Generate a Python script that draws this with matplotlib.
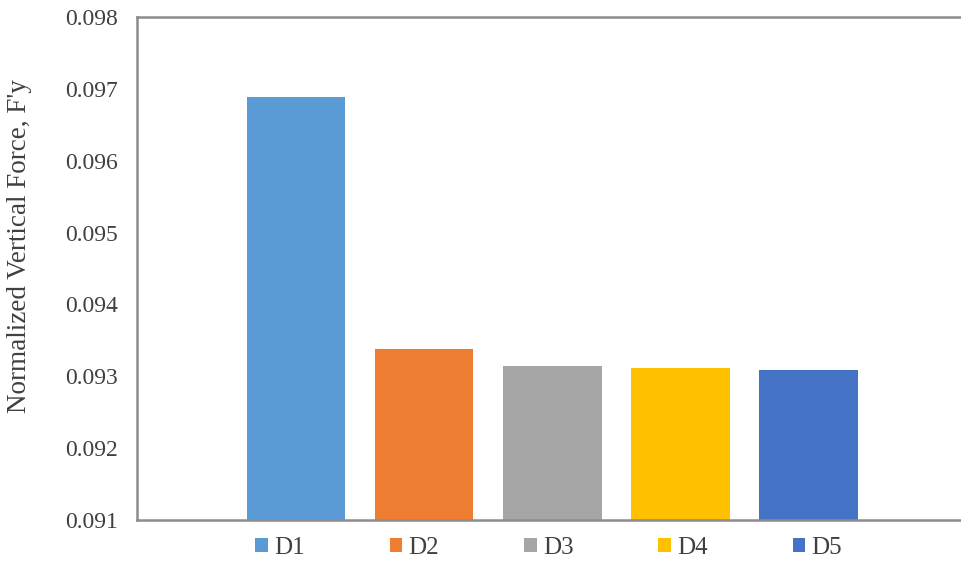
import matplotlib
matplotlib.use("Agg")
import matplotlib.pyplot as plt
from matplotlib.patches import Patch

plt.rcParams['font.family'] = ['Liberation Serif', 'DejaVu Serif']

series = ['D1', 'D2', 'D3', 'D4', 'D5']
force = [0.09689, 0.09338, 0.09314, 0.09312, 0.09309]
colors = ['#5B9BD5', '#ED7D31', '#A5A5A5', '#FFC000', '#4472C4']
yticks = [0.091, 0.092, 0.093, 0.094, 0.095, 0.096, 0.097, 0.098]

fig = plt.figure(figsize=(9.61, 5.86), dpi=100)
ax = fig.add_axes([0.1426, 0.1126, 0.8574, 0.8584])

x = range(len(series))
ax.bar(x, force, width=0.77, color=colors, zorder=2)

ax.set_xlim(-1.24, 5.19)
ax.set_ylim(0.091, 0.098)
ax.set_yticks(yticks)
ax.set_yticklabels(['%.3f' % v for v in yticks])
ax.set_xticks([])
ax.tick_params(axis='y', length=0, pad=14, labelsize=17, labelcolor='#404040')
ax.set_ylabel("Normalized Vertical Force, F'y", fontsize=19.5, color='#404040')
ax.yaxis.set_label_coords(-0.128, 0.545)

for side in ['left', 'top', 'bottom']:
    ax.spines[side].set_color('#8c8c8c')
    ax.spines[side].set_linewidth(1.8)
ax.spines['right'].set_visible(False)

handles = [Patch(facecolor=c, edgecolor='none') for c in colors]
fig.legend(handles, series, loc='center', bbox_to_anchor=(0.571, 0.065), ncol=5,
           frameon=False, fontsize=18, handlelength=0.5, handleheight=0.5,
           handletextpad=0.25, columnspacing=3.4, labelcolor='#404040')

fig.savefig('out.png', dpi=100)
